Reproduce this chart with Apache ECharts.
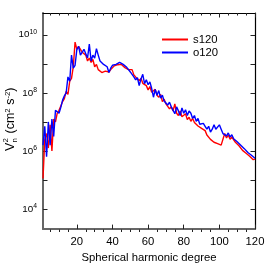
<!DOCTYPE html>
<html>
<head>
<meta charset="utf-8">
<style>
html,body{margin:0;padding:0;background:#fff;}
#c{width:270px;height:268px;}
</style>
<script src="https://cdn.jsdelivr.net/npm/echarts@6/dist/echarts.min.js"></script>
</head>
<body>
<div id="c"></div>
<script>
// Spherical harmonic degree (1..120)
const degrees = Array.from({length: 120}, (_, i) => i + 1);
// log10 of V_n^2 (cm^2 s^-2)
const s120Log = [
 5.05,6.40,6.60,6.10,6.90,6.00,7.10,7.00,7.30,7.40,
 7.55,7.70,7.80,8.05,7.95,8.40,8.50,8.90,9.75,9.50,
 9.60,9.50,9.40,9.45,9.30,9.10,9.20,9.05,9.15,8.90,
 8.98,8.80,8.80,8.70,8.65,8.75,8.70,8.72,8.80,8.85,
 8.93,8.90,8.97,9.02,8.98,8.95,8.87,8.85,8.80,8.78,
 8.80,8.62,8.55,8.58,8.42,8.50,8.33,8.38,8.25,8.10,
 8.22,8.02,7.96,8.12,7.92,7.85,7.95,7.70,7.78,7.62,
 7.68,7.45,7.52,7.38,7.62,7.30,7.22,7.38,7.18,7.15,
 7.28,7.08,7.16,7.02,7.12,6.98,6.96,6.86,6.88,6.78,
 6.75,6.70,6.55,6.50,6.40,6.38,6.30,6.28,6.25,6.22,
 6.20,6.15,6.60,6.45,6.55,6.40,6.48,6.42,6.30,6.28,
 6.18,6.15,6.02,6.05,5.92,5.90,5.82,5.80,5.70,5.72
];
const o120Log = [
 6.20,6.85,5.80,7.00,6.20,7.10,6.50,7.40,7.45,7.30,
 7.50,7.75,7.90,8.00,8.55,8.40,9.30,8.85,8.95,9.50,
 9.60,9.30,9.25,9.50,9.35,9.20,9.68,9.10,9.30,9.20,
 9.52,9.30,9.10,9.05,8.98,9.00,8.90,8.70,8.85,8.95,
 9.00,8.98,9.00,9.05,9.04,8.98,8.95,8.88,8.80,8.72,
 8.70,8.55,8.45,8.52,8.25,8.48,8.64,8.32,8.45,8.28,
 8.38,8.15,7.85,8.12,7.92,8.08,7.82,7.92,7.72,7.78,
 7.58,7.68,7.52,7.48,7.28,7.52,7.38,7.22,7.48,7.30,
 7.42,7.22,7.38,7.30,7.12,7.22,7.02,7.12,6.92,6.90,
 6.95,6.85,6.75,6.85,6.65,6.75,6.90,6.75,6.80,6.90,
 6.75,6.60,6.65,6.52,6.62,6.48,6.56,6.42,6.44,6.32,
 6.36,6.20,6.22,6.08,6.10,5.95,5.98,5.85,5.82,5.75
];
const seriesNames = ['s120', 'o120'];
const seriesColors = ['#ff0000', '#0000ff'];
const xLabelValues = [20, 40, 60, 80, 100, 120];
const xMinorTicks = [5,10,15,25,30,35,45,50,55,65,70,75,85,90,95,105,110,115];
const yTickExps = [4, 5, 6, 7, 8, 9, 10];
const yLabelExps = [4, 6, 8, 10];

const X_MIN = 1, X_MAX = 120, Y_MIN = 3.31, Y_MAX = 10.75;
const FONT = '"Liberation Sans", Arial, Helvetica, sans-serif';

const gridRect = {left: 43, right: 15, top: 13, bottom: 36};

function pairs(vals) { return degrees.map((d, i) => [d, vals[i]]); }

const chart = echarts.init(document.getElementById('c'), null, {renderer: 'canvas'});
chart.setOption({
  animation: false,
  backgroundColor: '#fff',
  grid: [
    Object.assign({containLabel: false}, gridRect),
    Object.assign({containLabel: false}, gridRect)
  ],
  legend: {
    orient: 'vertical',
    left: 162, top: 33, padding: 0,
    itemWidth: 26, itemHeight: 2, itemGap: 0,
    icon: 'rect',
    textStyle: {fontFamily: FONT, fontSize: 11.3, color: '#000', lineHeight: 13},
    data: seriesNames
  },
  xAxis: [
    {
      type: 'value', gridIndex: 0, position: 'bottom', min: X_MIN, max: X_MAX,
      axisLine: {show: true, lineStyle: {color: '#666', width: 2}},
      axisTick: {show: true, inside: true, length: 4.5, customValues: xLabelValues, lineStyle: {color: '#222', width: 1}},
      axisLabel: {show: true, customValues: xLabelValues, margin: 7, fontFamily: FONT, fontSize: 11.3, color: '#000'},
      splitLine: {show: false},
      name: 'Spherical harmonic degree', nameLocation: 'middle', nameGap: 22,
      nameTextStyle: {fontFamily: FONT, fontSize: 11.3, color: '#000'}
    },
    {
      type: 'value', gridIndex: 0, position: 'top', min: X_MIN, max: X_MAX,
      axisLine: {show: true, lineStyle: {color: '#000', width: 1.2}},
      axisTick: {show: true, inside: true, length: 4.5, customValues: xLabelValues, lineStyle: {color: '#222', width: 1}},
      axisLabel: {show: false},
      splitLine: {show: false}
    },
    {
      type: 'value', gridIndex: 1, position: 'bottom', min: X_MIN, max: X_MAX,
      axisLine: {show: false},
      axisTick: {show: true, inside: true, length: 2.5, customValues: xMinorTicks, lineStyle: {color: '#222', width: 1}},
      axisLabel: {show: false},
      splitLine: {show: false}
    },
    {
      type: 'value', gridIndex: 1, position: 'top', min: X_MIN, max: X_MAX,
      axisLine: {show: false},
      axisTick: {show: true, inside: true, length: 2.5, customValues: xMinorTicks, lineStyle: {color: '#222', width: 1}},
      axisLabel: {show: false},
      splitLine: {show: false}
    }
  ],
  yAxis: [
    {
      type: 'value', gridIndex: 0, position: 'left', min: Y_MIN, max: Y_MAX,
      axisLine: {show: true, lineStyle: {color: '#666', width: 2}},
      axisTick: {show: true, inside: true, length: 4.5, customValues: yTickExps, lineStyle: {color: '#222', width: 1}},
      axisLabel: {
        show: true, customValues: yLabelExps, margin: 6,
        formatter: v => '{b|10}{s|' + Math.round(v) + '}',
        rich: {
          b: {fontFamily: FONT, fontSize: 9.8, color: '#000', lineHeight: 12},
          s: {fontFamily: FONT, fontSize: 6.8, color: '#000', lineHeight: 7, verticalAlign: 'top'}
        }
      },
      splitLine: {show: false}
    },
    {
      type: 'value', gridIndex: 0, position: 'right', min: Y_MIN, max: Y_MAX,
      axisLine: {show: true, lineStyle: {color: '#000', width: 1.2}},
      axisTick: {show: true, inside: true, length: 4.5, customValues: yTickExps, lineStyle: {color: '#222', width: 1}},
      axisLabel: {show: false},
      splitLine: {show: false}
    },
    {
      type: 'value', gridIndex: 1, position: 'left', min: Y_MIN, max: Y_MAX, show: false
    }
  ],
  graphic: [
    {
      type: 'group', x: 11, y: 151, rotation: Math.PI / 2,
      children: [
        {type: 'text', x: 0, y: 0, style: {text: 'V', fontFamily: FONT, fontSize: 12.5, fill: '#000', verticalAlign: 'middle', align: 'left'}},
        {type: 'text', x: 8.6, y: -4.7, style: {text: '2', fontFamily: FONT, fontSize: 7.8, fill: '#000', verticalAlign: 'middle', align: 'left'}},
        {type: 'text', x: 8.6, y: 4.0, style: {text: 'n', fontFamily: FONT, fontSize: 7.8, fill: '#000', verticalAlign: 'middle', align: 'left'}},
        {type: 'text', x: 17.5, y: 0, style: {
          text: '{b|(cm}{s|2}{b| s}{s|-2}{b|)}',
          verticalAlign: 'middle', align: 'left',
          rich: {
            b: {fontFamily: FONT, fontSize: 12.5, fill: '#000', color: '#000', lineHeight: 14},
            s: {fontFamily: FONT, fontSize: 7.8, fill: '#000', color: '#000', lineHeight: 8, verticalAlign: 'top'}
          }
        }}
      ]
    }
  ],
  series: seriesNames.map((name, k) => ({
    name: name,
    type: 'line',
    xAxisIndex: 0, yAxisIndex: 0,
    data: pairs(k === 0 ? s120Log : o120Log),
    showSymbol: false,
    symbol: 'none',
    color: seriesColors[k],
    lineStyle: {color: seriesColors[k], width: 1.4},
    clip: true,
    z: 3
  }))
});
</script>
</body>
</html>
